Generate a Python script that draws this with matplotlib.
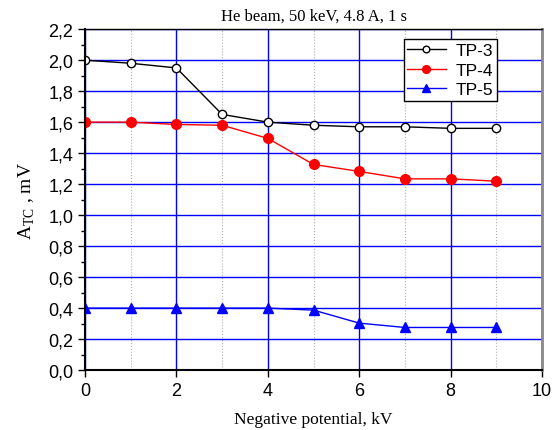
import numpy as np
import matplotlib.pyplot as plt
from matplotlib.ticker import MultipleLocator, FuncFormatter

# data
potential = [0, 1, 2, 3, 4, 5, 6, 7, 8, 9]
tp3 = [2.00, 1.98, 1.95, 1.65, 1.60, 1.58, 1.57, 1.57, 1.56, 1.56]
tp4 = [1.60, 1.60, 1.585, 1.58, 1.495, 1.327, 1.282, 1.234, 1.234, 1.219]
tp5 = [0.40, 0.40, 0.40, 0.40, 0.40, 0.387, 0.303, 0.275, 0.275, 0.275]

plt.rcParams['font.family'] = ['Liberation Sans', 'DejaVu Sans']

fig = plt.figure(figsize=(5.52, 4.31), dpi=100)
ax = fig.add_axes([0.154, 0.139, 0.828, 0.791])

# grid
ax.xaxis.set_major_locator(MultipleLocator(2))
ax.xaxis.set_minor_locator(MultipleLocator(1))
ax.yaxis.set_major_locator(MultipleLocator(0.2))
ax.yaxis.set_minor_locator(MultipleLocator(0.1))
ax.grid(True, which="major", color="#0000ff", linewidth=1.0)
ax.grid(True, which="minor", axis="x", color="#b0b0b0", linestyle=":", linewidth=0.8)
ax.set_axisbelow(True)

ax.plot(potential, tp3, color="black", linewidth=1, marker="o", markersize=6,
        markerfacecolor="white", markeredgecolor="black", label="TP-3")
ax.plot(potential, tp4, color="red", linewidth=1, marker="o", markersize=7,
        markerfacecolor="red", markeredgecolor="red", label="TP-4")
ax.plot(potential, tp5, color="blue", linewidth=1, marker="^", markersize=7,
        markerfacecolor="blue", markeredgecolor="blue", label="TP-5")

ax.set_xlim(0, 10)
ax.set_ylim(0, 2.2)
ax.yaxis.set_major_formatter(FuncFormatter(lambda v, p: f"{v:.1f}".replace(".", ",")))

ax.tick_params(axis="both", which="major", direction="out", length=5, width=1,
               labelsize=13, top=False, right=False)
ax.tick_params(axis="both", which="minor", direction="out", length=3, width=1,
               top=False, right=False)
ax.tick_params(axis="x", which="minor", length=0)

for side in ["left", "bottom"]:
    ax.spines[side].set_linewidth(1.5)
ax.spines["right"].set_color("#888888")
ax.spines["right"].set_linewidth(2)
ax.spines["top"].set_linewidth(1)

serif = ['Liberation Serif', 'DejaVu Serif']
ax.set_title("He beam, 50 keV, 4.8 A, 1 s", family=serif, fontsize=12, pad=7)
ax.set_xlabel("Negative potential, kV", family=serif, fontsize=12.5, labelpad=9)
ax.set_ylabel(r"A$_{\mathregular{TC}}$ , mV", family=serif, fontsize=14, labelpad=8)

leg = ax.legend(loc="upper right", bbox_to_anchor=(0.913, 0.985), fontsize=12.5,
                frameon=True, fancybox=False, edgecolor="black", framealpha=1,
                handlelength=2.2, borderpad=0.2, labelspacing=0.25, markerscale=0.8,
                handletextpad=0.6, borderaxespad=0.3)
leg.get_frame().set_linewidth(1)

fig.savefig("out.png", dpi=100)
